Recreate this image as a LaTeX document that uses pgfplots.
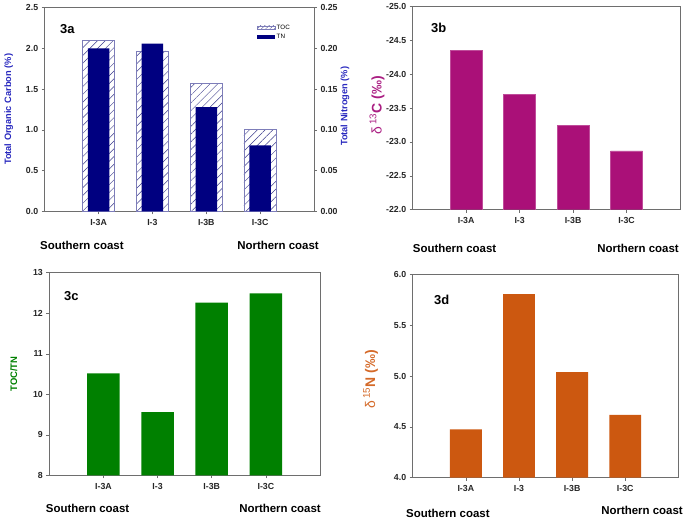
\documentclass[border=0pt]{standalone}
\usepackage{pgfplots}
\pgfplotsset{compat=1.18}
\usepackage{fontspec}
\setmainfont{Liberation Sans}
\usetikzlibrary{patterns.meta}
\definecolor{tnnavy}{RGB}{0,0,128}
\definecolor{labblue}{RGB}{40,40,190}
\definecolor{hatch}{RGB}{60,60,140}
\definecolor{tocedge}{RGB}{125,125,185}
\definecolor{magbar}{RGB}{170,16,120}
\definecolor{maglab}{RGB}{170,30,130}
\definecolor{grnbar}{RGB}{0,128,0}
\definecolor{orgbar}{RGB}{204,88,16}
\definecolor{orglab}{RGB}{212,105,40}
\definecolor{frame}{RGB}{110,110,110}

\pgfplotsset{
  panel/.style={
    scale only axis, anchor=south west,
    xmin=0, xmax=5, xtick={1,2,3,4}, xticklabels={I-3A,I-3,I-3B,I-3C},
    tick align=outside, xtick pos=left, ytick pos=left,
    major tick length=3bp,
    axis line style={frame, line width=0.6bp},
    every tick/.style={frame, line width=0.6bp},
    tick label style={font=\bfseries\fontsize{8.8}{10}\selectfont, text=black!85},
    /pgf/number format/assume math mode=true,
    xticklabel style={yshift=-1.5bp},
    ybar, bar width=0.6,
  },
}

\begin{document}
\begin{tikzpicture}
\path (0bp,0bp) rectangle (685bp,519bp);

% ---------- 3a ----------
\begin{axis}[panel, at={(44.7bp,308bp)}, width=269.3bp, height=203.7bp,
  ymin=0, ymax=2.5, ytick={0,0.5,1,1.5,2,2.5},
  yticklabel style={/pgf/number format/.cd, fixed, fixed zerofill, precision=1}]
\addplot[draw=tocedge, line width=0.6bp,
  pattern={Lines[angle=45,distance=5.5bp,line width=0.45bp]}, pattern color=hatch]
  coordinates {(1,2.10) (2,1.97) (3,1.57) (4,1.01)};
\end{axis}
\begin{axis}[panel, at={(44.7bp,308bp)}, width=269.3bp, height=203.7bp,
  axis x line=none, axis y line*=right, ytick pos=right,
  ymin=0, ymax=0.25, ytick={0,0.05,0.1,0.15,0.2,0.25},
  yticklabel style={/pgf/number format/.cd, fixed, fixed zerofill, precision=2},
  bar width=0.4,
  legend style={at={(0.787,0.925)}, anchor=north west, draw=none, fill=none,
    font=\fontsize{6.3}{8.5}\selectfont, inner sep=0pt, row sep=0.6bp,
    nodes={inner sep=1.5bp}},
  legend cell align=left]
\addlegendimage{legend image code/.code={\draw[draw=tocedge, line width=0.5bp,
  pattern={Lines[angle=45,distance=3bp,line width=0.4bp]}, pattern color=hatch]
  (0bp,-1.7bp) rectangle (18bp,1.7bp);}}
\addlegendentry{TOC}
\addplot[fill=tnnavy, draw=none,
  legend image code/.code={\fill[tnnavy] (0bp,-1.7bp) rectangle (18bp,1.7bp);}]
  coordinates {(1,0.200) (2,0.206) (3,0.128) (4,0.081)};
\addlegendentry{TN}
\end{axis}

% ---------- 3b ----------
\begin{axis}[panel, at={(412.7bp,309.7bp)}, width=267.3bp, height=203.3bp,
  y dir=reverse, ymin=-25, ymax=-22, ytick={-25,-24.5,-24,-23.5,-23,-22.5,-22},
  yticklabel style={/pgf/number format/.cd, fixed, fixed zerofill, precision=1}]
\addplot[fill=magbar, draw=magbar!75!white, line width=0.4bp]
  coordinates {(1,-24.35) (2,-23.70) (3,-23.25) (4,-22.87)};
\end{axis}

% ---------- 3c ----------
\begin{axis}[panel, at={(49.3bp,44bp)}, width=270.7bp, height=202.7bp,
  ymin=8, ymax=13, ytick={8,9,10,11,12,13}]
\addplot[fill=grnbar, draw=none]
  coordinates {(1,10.52) (2,9.56) (3,12.26) (4,12.49)};
\end{axis}

% ---------- 3d ----------
\begin{axis}[panel, at={(412.7bp,41.7bp)}, width=265.6bp, height=203bp,
  ymin=4, ymax=6, ytick={4,4.5,5,5.5,6},
  yticklabel style={/pgf/number format/.cd, fixed, fixed zerofill, precision=1}]
\addplot[fill=orgbar, draw=none]
  coordinates {(1,4.476) (2,5.81) (3,5.04) (4,4.62)};
\end{axis}

% ---------- labels ----------
\tikzset{ylab/.style={rotate=90, inner sep=0pt},
  coast/.style={font=\bfseries\fontsize{11.5}{13}\selectfont, inner sep=0pt},
  pan/.style={font=\bfseries\fontsize{13}{15}\selectfont, inner sep=0pt}}
\node[ylab, text=labblue, font=\bfseries\fontsize{9.3}{11}\selectfont] at (8.7bp,410bp) {Total Organic Carbon (\%)};
\node[ylab, text=labblue, font=\bfseries\fontsize{9.3}{11}\selectfont] at (345bp,413bp) {Total Nitrogen (\%)};
\node[ylab, text=maglab, font=\fontsize{14}{16}\selectfont] at (377bp,414bp) {δ\,\textsuperscript{13}\textbf{C (‰)}};
\node[ylab, text=grnbar, font=\bfseries\fontsize{9.5}{11}\selectfont] at (13.7bp,145.5bp) {TOC/TN};
\node[ylab, text=orglab, font=\fontsize{14}{16}\selectfont] at (370.5bp,140bp) {δ\,\textsuperscript{15}\textbf{N (‰)}};

\node[pan, anchor=west] at (60bp,490bp) {3a};
\node[pan, anchor=west] at (431bp,492bp) {3b};
\node[pan, anchor=west] at (64bp,223bp) {3c};
\node[pan, anchor=west] at (434bp,220bp) {3d};

\node[coast, anchor=west] at (40bp,274bp) {Southern coast};
\node[coast, anchor=east] at (319bp,274bp) {Northern coast};
\node[coast, anchor=west] at (412.7bp,271bp) {Southern coast};
\node[coast, anchor=east] at (679bp,271bp) {Northern coast};
\node[coast, anchor=west] at (45.7bp,11bp) {Southern coast};
\node[coast, anchor=east] at (321bp,11bp) {Northern coast};
\node[coast, anchor=west] at (406bp,6bp) {Southern coast};
\node[coast, anchor=east] at (683bp,9bp) {Northern coast};
\end{tikzpicture}
\end{document}
